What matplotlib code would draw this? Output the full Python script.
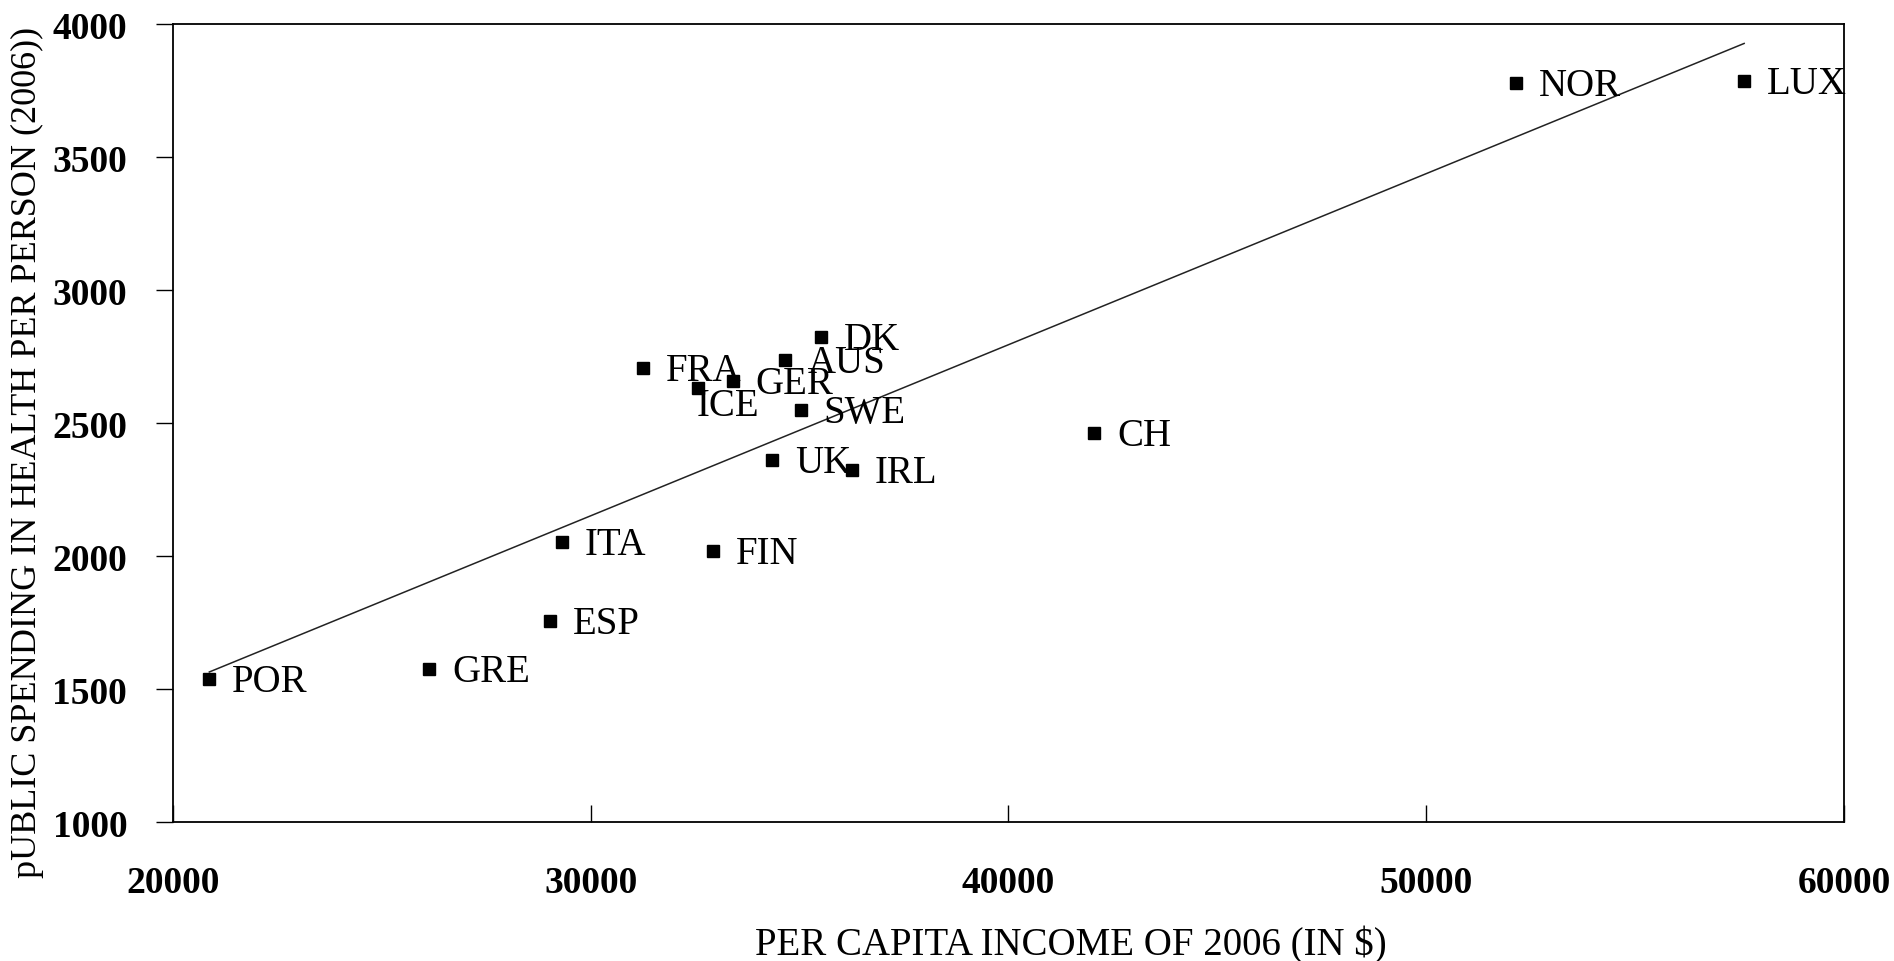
import numpy as np
import matplotlib
matplotlib.use("Agg")
import matplotlib.pyplot as plt

# ---- data ----
countries = ["POR", "GRE", "ESP", "ITA", "FIN", "FRA", "ICE", "GER",
             "AUS", "DK", "SWE", "UK", "IRL", "CH", "NOR", "LUX"]
income = [20870, 26130, 29020, 29300, 32920, 31250, 32570, 33400,
          34650, 35510, 35030, 34340, 36250, 42050, 52140, 57610]
health_spending = [1539, 1577, 1757, 2052, 2020, 2707, 2632, 2658,
                   2737, 2823, 2549, 2361, 2323, 2462, 3778, 3785]

x_ticks = [20000, 30000, 40000, 50000, 60000]
y_ticks = [1000, 1500, 2000, 2500, 3000, 3500, 4000]
x_label = "PER CAPITA INCOME OF 2006 (IN $)"
y_label = "pUBLIC SPENDING IN HEALTH PER PERSON (2006))"

# label placement offsets (points), style only
label_offsets = {"ICE": (-1, -13)}
default_offset = (16.5, -2)

plt.rcParams['font.family'] = ['Liberation Serif', 'DejaVu Serif']

fig = plt.figure(figsize=(18.94, 9.62), dpi=100)
ax = fig.add_axes([0.09134, 0.14449, 0.88226, 0.82952])

ax.plot(income, health_spending, linestyle='none', marker='s',
        markersize=9.2, color='black', zorder=3)

# linear trend line over the data range
coef = np.polyfit(income, health_spending, 1)
xs = np.array([min(income), max(income)])
ax.plot(xs, np.polyval(coef, xs), color='#222222', linewidth=1.1, zorder=2)

for name, xv, yv in zip(countries, income, health_spending):
    off = label_offsets.get(name, default_offset)
    ax.annotate(name, (xv, yv), xytext=off, textcoords='offset points',
                ha='left', va='center', fontsize=28, color='black', zorder=4)

ax.set_xlim(20000, 60000)
ax.set_ylim(1000, 4000)
ax.set_xticks(x_ticks)
ax.set_yticks(y_ticks)
ax.set_xticklabels([str(v) for v in x_ticks], fontsize=27, fontweight='bold')
ax.set_yticklabels([str(v) for v in y_ticks], fontsize=27, fontweight='bold')
ax.tick_params(axis='x', direction='in', length=12, width=1.0, pad=31)
ax.tick_params(axis='y', direction='out', length=12, width=1.0, pad=21)
for sp in ax.spines.values():
    sp.set_linewidth(1.3)
    sp.set_color('black')

fig.text(1070.5 / 1894, 7 / 962, x_label, ha='center', va='baseline',
         fontsize=28)
fig.text(27.5 / 1894, 1 - 452.5 / 962, y_label, ha='center', va='center',
         rotation=90, fontsize=26)

fig.savefig("out.png", dpi=100, facecolor='white')
